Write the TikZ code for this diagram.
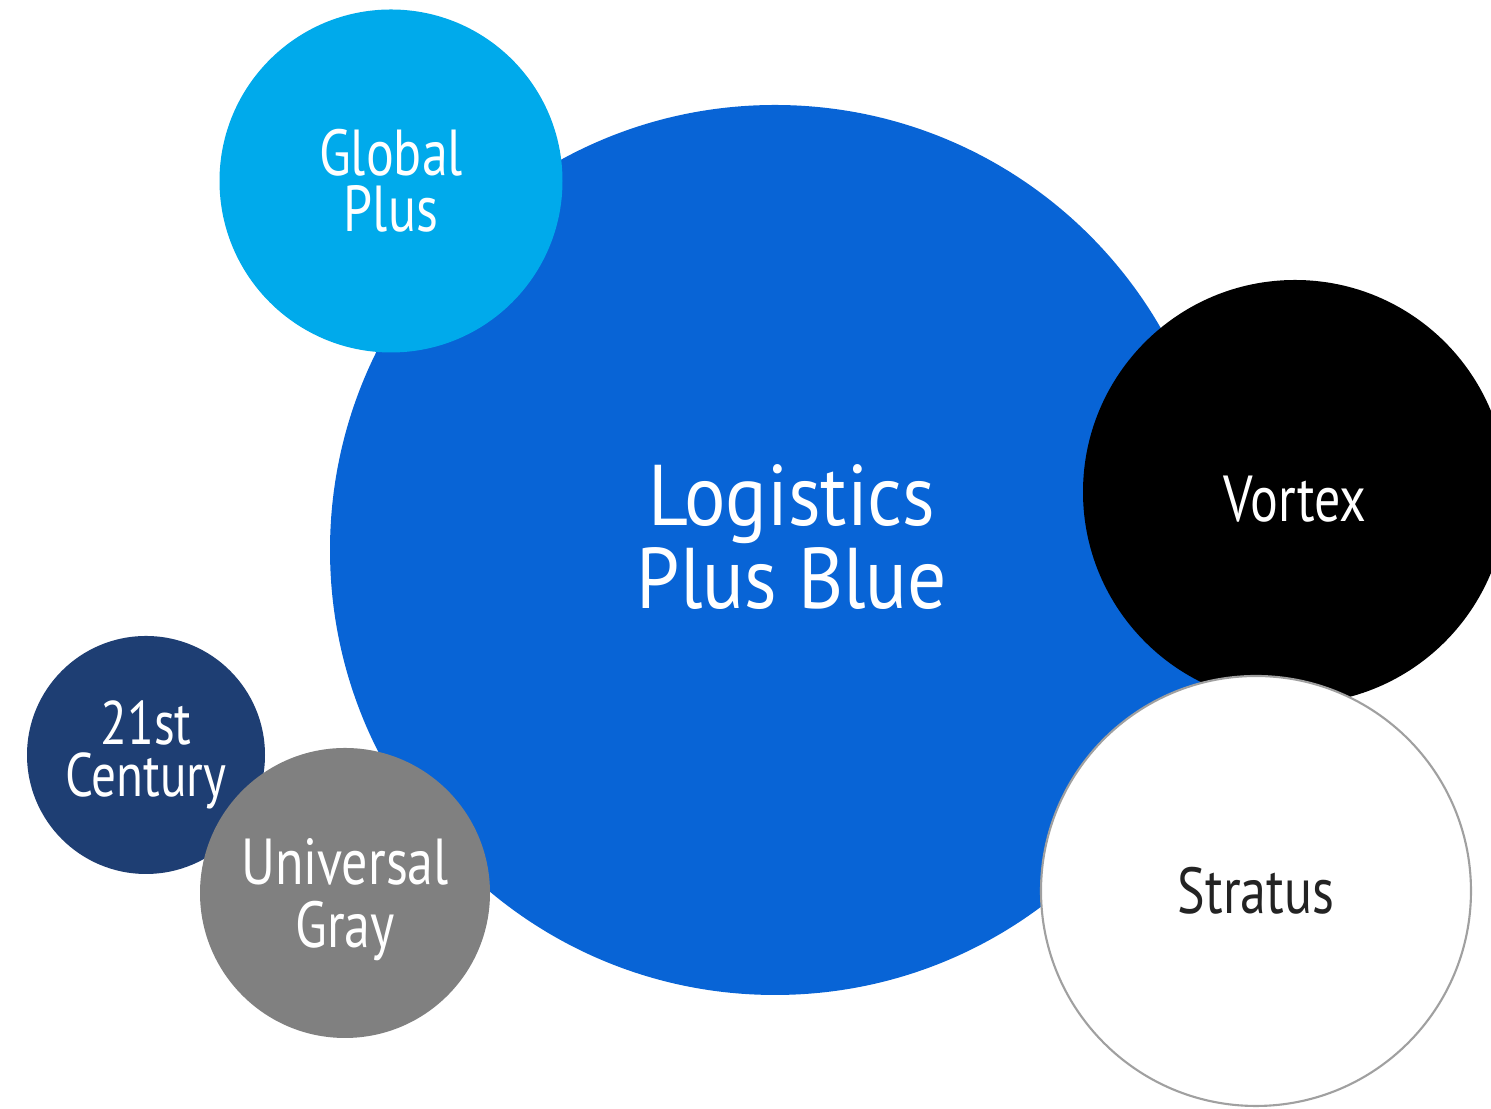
\documentclass[tikz,border=0pt]{standalone}
\usepackage{fontspec}
\setmainfont{PT Sans}[FakeStretch=0.8]
\newfontfamily\widesans{PT Sans}[FakeStretch=0.9]
\usepackage{tikz}
\usetikzlibrary{shapes,positioning}
\definecolor{lpblue}{RGB}{8, 100, 214}
\definecolor{globalblue}{RGB}{0, 170, 235}
\definecolor{navy}{RGB}{30, 62, 115}
\definecolor{unigray}{RGB}{128, 128, 128}
\definecolor{rimgray}{RGB}{160, 160, 160}
\definecolor{inkgray}{RGB}{35, 35, 35}
\tikzstyle{bubble} = [circle, inner sep=0pt, outer sep=0pt, text=white, align=center]
\tikzstyle{bigbubble} = [bubble, fill=lpblue, minimum size=8.9cm]
\tikzstyle{bigtext} = [bubble, font=\widesans\fontsize{24.5}{23.5}\selectfont]
\tikzstyle{midbubble} = [bubble, font=\fontsize{18.5}{15.8}\selectfont]
\tikzstyle{smallbubble} = [bubble, font=\fontsize{17.5}{14.8}\selectfont]

\begin{document}
\begin{tikzpicture}

\clip (0,0) rectangle (14.91,11.09);
\fill[white] (0,0) rectangle (14.91,11.09);

% bubbles =============================

% main brand
\node[bigbubble] (logistics) at (7.75,5.59) {};
\node[bigtext] (logisticstext) at ([xshift=0.17cm, yshift=0.13cm] logistics.center) {Logistics\\Plus Blue};

% top left
\node[midbubble, fill=globalblue, minimum size=3.43cm] (global) at (3.91,9.28) {Global\\Plus};

% right side
\node[midbubble, fill=black, minimum size=4.24cm] (vortex) at (12.95,6.17) {\raisebox{-0.07cm}[\height][\depth]{Vortex}};
\node[midbubble, fill=white, draw=rimgray, line width=0.6pt, text=inkgray, minimum size=4.3cm] (stratus) at (12.56,2.18) {Stratus};

% bottom left
\node[smallbubble, fill=navy, minimum size=2.38cm] (century) at (1.46,3.54) {21st\\Century};
\node[midbubble, fill=unigray, minimum size=2.9cm] (universal) at (3.45,2.16) {\raisebox{-0.08cm}[\height][\depth]{\begin{tabular}{@{}c@{}}Universal\\Gray\end{tabular}}};

\end{tikzpicture}
\end{document}
